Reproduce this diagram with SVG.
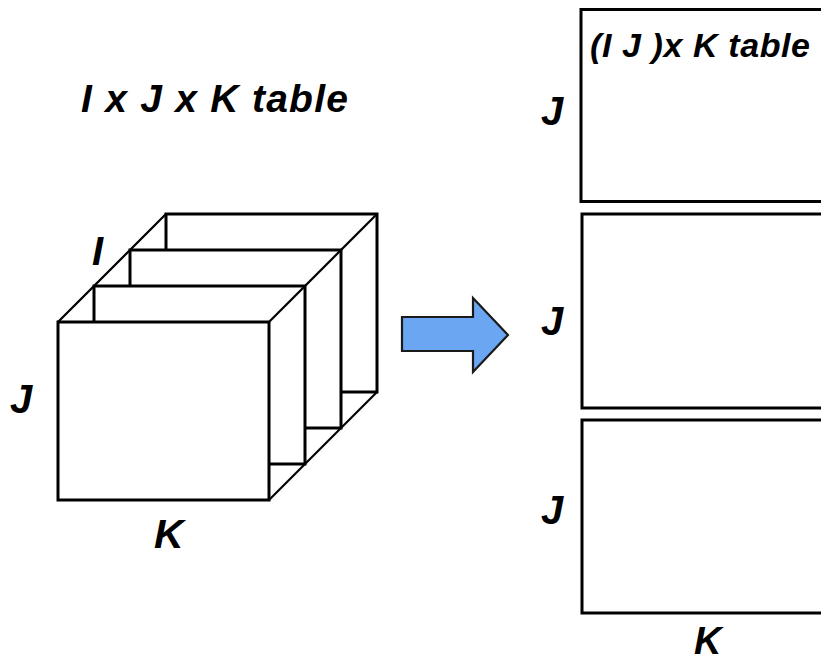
<svg xmlns="http://www.w3.org/2000/svg" width="821" height="661" viewBox="0 0 821 661">
<style>
.t{font-family:"Liberation Sans",Arial,sans-serif;font-weight:bold;font-style:italic;fill:#000}
.fr{fill:#fff;stroke:#000;stroke-width:3}
.dg{fill:none;stroke:#000;stroke-width:2.2}
</style>
<rect width="821" height="661" fill="#fff"/>
<text class="t" x="81" y="112" font-size="39" textLength="267">I x J x K table</text>
<g id="cube">
<rect class="fr" x="166" y="214" width="211" height="178"/>
<rect class="fr" x="130" y="250" width="211" height="178"/>
<rect class="fr" x="94" y="286" width="211" height="178"/>
<rect class="fr" x="58" y="322" width="211" height="178"/>
<line class="dg" x1="58" y1="322" x2="166" y2="214"/>
<line class="dg" x1="269" y1="322" x2="377" y2="214"/>
<line class="dg" x1="269" y1="500" x2="377" y2="392"/>
<text class="t" x="92" y="265" font-size="40">I</text>
<text class="t" x="10" y="413" font-size="40">J</text>
<text class="t" x="154" y="548" font-size="41">K</text>
</g>
<g id="connectors">
<polygon points="402,317 473,317 473,298 508,335 473,372 473,351 402,351" fill="#6AA6F2" stroke="#1a1a1a" stroke-width="2.2" stroke-linejoin="miter"/>
</g>
<g id="table1">
<rect class="fr" x="581" y="9.5" width="250" height="192"/>
<text class="t" x="590" y="57" font-size="34" textLength="220">(I J )x K table</text>
<text class="t" x="541" y="125" font-size="40">J</text>
</g>
<g id="table2">
<rect class="fr" x="582" y="214" width="250" height="194"/>
<text class="t" x="541" y="335" font-size="40">J</text>
</g>
<g id="table3">
<rect class="fr" x="582" y="420" width="250" height="193"/>
<text class="t" x="541" y="524" font-size="40">J</text>
<text class="t" x="694" y="654" font-size="38">K</text>
</g>
</svg>
